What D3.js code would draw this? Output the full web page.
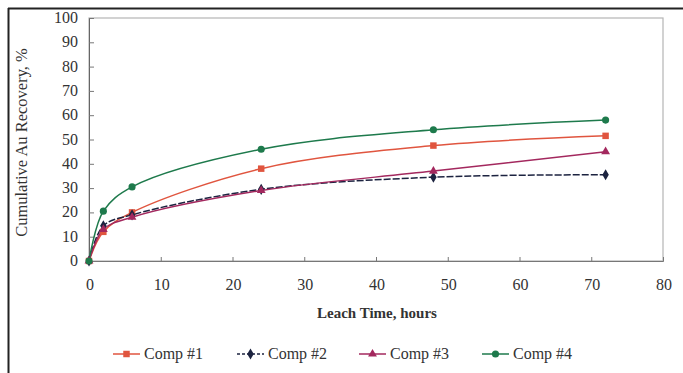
<!DOCTYPE html>
<html>
<head>
<meta charset="utf-8">
<script src="https://cdn.jsdelivr.net/npm/d3@7/dist/d3.min.js"></script>
<style>
  body { margin: 0; background: #fff; }
  svg text { font-family: "Liberation Serif", "DejaVu Serif", serif; fill: #333; }
</style>
</head>
<body>
<div id="vis"></div>
<script>
// leach times (hours) and cumulative Au recovery (%)
var hours = [0, 2, 6, 24, 48, 72];
var comp1 = [0, 12, 20, 38, 47.5, 51.5];
var comp2 = [0, 14.5, 19, 29.5, 34.5, 35.5];
var comp3 = [0, 13, 18, 29, 37, 45];
var comp4 = [0, 20.5, 30.5, 46, 54, 58];
var seriesNames = ['Comp #1', 'Comp #2', 'Comp #3', 'Comp #4'];
var xTicks = [0, 10, 20, 30, 40, 50, 60, 70, 80];
var yTicks = [0, 10, 20, 30, 40, 50, 60, 70, 80, 90, 100];

var width = 683, height = 373;
var margin = { top: 18, left: 89, bottom: 112, right: 20 };

var colors = ['#e0553f', '#1c2340', '#a3285e', '#1e7a4c'];
var shapes = [d3.symbolSquare, d3.symbolDiamond, d3.symbolTriangle, d3.symbolCircle];
var sizes = [42, 36, 34, 40];

var svg = d3.select('#vis').append('svg')
  .attr('width', width)
  .attr('height', height);

// outer frame (left + top only as in the scan)
svg.append('line').attr('x1', 8.5).attr('x2', 8.5).attr('y1', 8).attr('y2', height)
  .attr('stroke', '#222').attr('stroke-width', 2);
svg.append('line').attr('x1', 8).attr('x2', width).attr('y1', 8.5).attr('y2', 8.5)
  .attr('stroke', '#222').attr('stroke-width', 2);

var x = d3.scaleLinear().domain([0, 80]).range([margin.left, 663]);
var y = d3.scaleLinear().domain([0, 100]).range([261, margin.top]);

// plot box
svg.append('rect')
  .attr('x', x(0)).attr('y', y(100))
  .attr('width', x(80) - x(0)).attr('height', y(0) - y(100))
  .attr('fill', 'none').attr('stroke', '#b5b5b5').attr('stroke-width', 1.2);

// axes with inside ticks
var yAxis = svg.append('g')
  .attr('transform', 'translate(' + x(0) + ',0)')
  .call(d3.axisRight(y).tickValues(yTicks).tickSize(5).tickFormat(''));
yAxis.select('.domain').attr('stroke', '#666');
yAxis.selectAll('.tick line').attr('stroke', '#777');

svg.append('g').selectAll('text')
  .data(yTicks)
  .enter()
  .append('text')
  .attr('x', x(0) - 11)
  .attr('y', function(d) { return y(d) + 5; })
  .attr('text-anchor', 'end')
  .style('font-size', '16px')
  .text(function(d) { return d; });

var xAxis = svg.append('g')
  .attr('transform', 'translate(0,' + y(0) + ')')
  .call(d3.axisTop(x).tickValues(xTicks).tickSize(4).tickFormat(''));
xAxis.select('.domain').attr('stroke', '#777');
xAxis.selectAll('.tick line').attr('stroke', '#777');

svg.append('g').selectAll('text')
  .data(xTicks)
  .enter()
  .append('text')
  .attr('x', function(d) { return x(d) + 1; })
  .attr('y', y(0) + 29)
  .attr('text-anchor', 'middle')
  .style('font-size', '16px')
  .text(function(d) { return d; });

// axis titles
svg.append('text')
  .attr('transform', 'translate(27,' + ((y(0) + y(100)) / 2 + 3) + ') rotate(-90)')
  .attr('text-anchor', 'middle')
  .style('font-size', '16.5px')
  .text('Cumulative Au Recovery, %');

svg.append('text')
  .attr('x', 377)
  .attr('y', 318)
  .attr('text-anchor', 'middle')
  .style('font-size', '15px')
  .style('font-weight', 'bold')
  .text('Leach Time, hours');

// series
var series = [comp1, comp2, comp3, comp4].map(function(vals, i) {
  return { name: seriesNames[i], points: hours.map(function(h, j) { return [h, vals[j]]; }) };
});

// Excel-style smoothed lines
var line = d3.line()
  .x(function(d) { return x(d[0]); })
  .y(function(d) { return y(d[1]); })
  .curve(d3.curveCatmullRom.alpha(0.5));

var plot = svg.append('g');
series.forEach(function(s, i) {
  plot.append('path')
    .attr('d', line(s.points))
    .attr('fill', 'none')
    .attr('stroke', colors[i])
    .attr('stroke-width', 1.5)
    .attr('stroke-dasharray', i === 1 ? '7,2' : null);
});
series.forEach(function(s, i) {
  plot.append('g').selectAll('path')
    .data(s.points)
    .enter()
    .append('path')
    .attr('transform', function(d) { return 'translate(' + x(d[0]) + ',' + y(d[1]) + ')'; })
    .attr('d', d3.symbol().type(shapes[i]).size(sizes[i]))
    .attr('fill', colors[i]);
});

// legend
var legendX = [113, 237, 359, 482];
var legend = svg.append('g').selectAll('g')
  .data(series)
  .enter()
  .append('g')
  .attr('transform', function(d, i) { return 'translate(' + legendX[i] + ',354)'; });

legend.append('line')
  .attr('x1', 0).attr('x2', 27).attr('y1', 0).attr('y2', 0)
  .attr('stroke', function(d, i) { return colors[i]; })
  .attr('stroke-width', 1.5)
  .attr('stroke-dasharray', function(d, i) { return i === 1 ? '3,2' : null; });
legend.append('path')
  .attr('transform', 'translate(13.5,0)')
  .attr('d', function(d, i) { return d3.symbol().type(shapes[i]).size(sizes[i])(); })
  .attr('fill', function(d, i) { return colors[i]; });
legend.append('text')
  .attr('x', 31)
  .attr('y', 5)
  .style('font-size', '16px')
  .text(function(d) { return d.name; });
</script>
</body>
</html>
